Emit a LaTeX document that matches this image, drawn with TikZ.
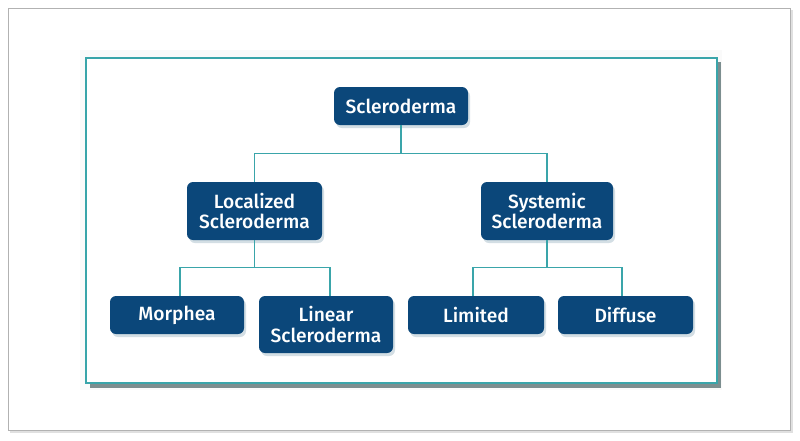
\documentclass[tikz,border=0pt]{standalone}
\usepackage{fontspec}
\setmainfont{Fira Sans}
\newfontfamily\boxfont{Fira Sans Medium}
\usetikzlibrary{shadows}
\definecolor{navy}{HTML}{0B477A}
\definecolor{teal}{HTML}{3AA5AA}
\definecolor{haze}{HTML}{C9D6DE}
\tikzset{
	box/.style={fill=navy,text=white,rounded corners=6pt,align=center,
		font=\boxfont\fontsize{19.2}{20.5}\selectfont,inner sep=0pt,
		drop shadow={shadow xshift=2pt,shadow yshift=-3pt,fill=haze,opacity=.8}},
	link/.style={draw=teal,line width=1.3pt}
}
\begin{document}
\begin{tikzpicture}[x=1pt,y=-1pt]
	\useasboundingbox (0,0) rectangle (800,440);
	% frame
	\fill[black!12] (10,10) rectangle (793,433);
	\draw[black!30,fill=white] (8,8) rectangle (790,430);
	\fill[black!2] (80,50) rectangle (722,390);
	\fill[teal!30!black!55] (90,62) rectangle (721,388);
	\draw[teal,line width=1.3pt,fill=white] (86,58) rectangle (717,383);
	% boxes
	\node[box,minimum width=134,minimum height=38] (root) at (401,106) {Scleroderma};
	\node[box,minimum width=135,minimum height=58] (loc) at (254.5,211) {Localized\\Scleroderma};
	\node[box,minimum width=132,minimum height=58] (sys) at (547,211) {Systemic\\Scleroderma};
	\node[box,minimum width=134,minimum height=38] (morph) at (177,315) {Morphea};
	\node[box,minimum width=134,minimum height=57] (lin) at (326,324.5) {Linear\\Scleroderma};
	\node[box,minimum width=136,minimum height=38] (lim) at (476,315) {Limited};
	\node[box,minimum width=135,minimum height=38] (dif) at (625.5,315) {Diffuse};
	% links
	\draw[link] (root.south) -- ++(0,28) -| (loc.north);
	\draw[link] (root.south) -- ++(0,28) -| (sys.north);
	\draw[link] (loc.south) -- ++(0,27) -| (morph.north -| 180,0);
	\draw[link] (loc.south) -- ++(0,27) -| (lin.north -| 330,0);
	\draw[link] (sys.south) -- ++(0,27) -| (lim.north -| 473,0);
	\draw[link] (sys.south) -- ++(0,27) -| (dif.north -| 622,0);
\end{tikzpicture}
\end{document}
